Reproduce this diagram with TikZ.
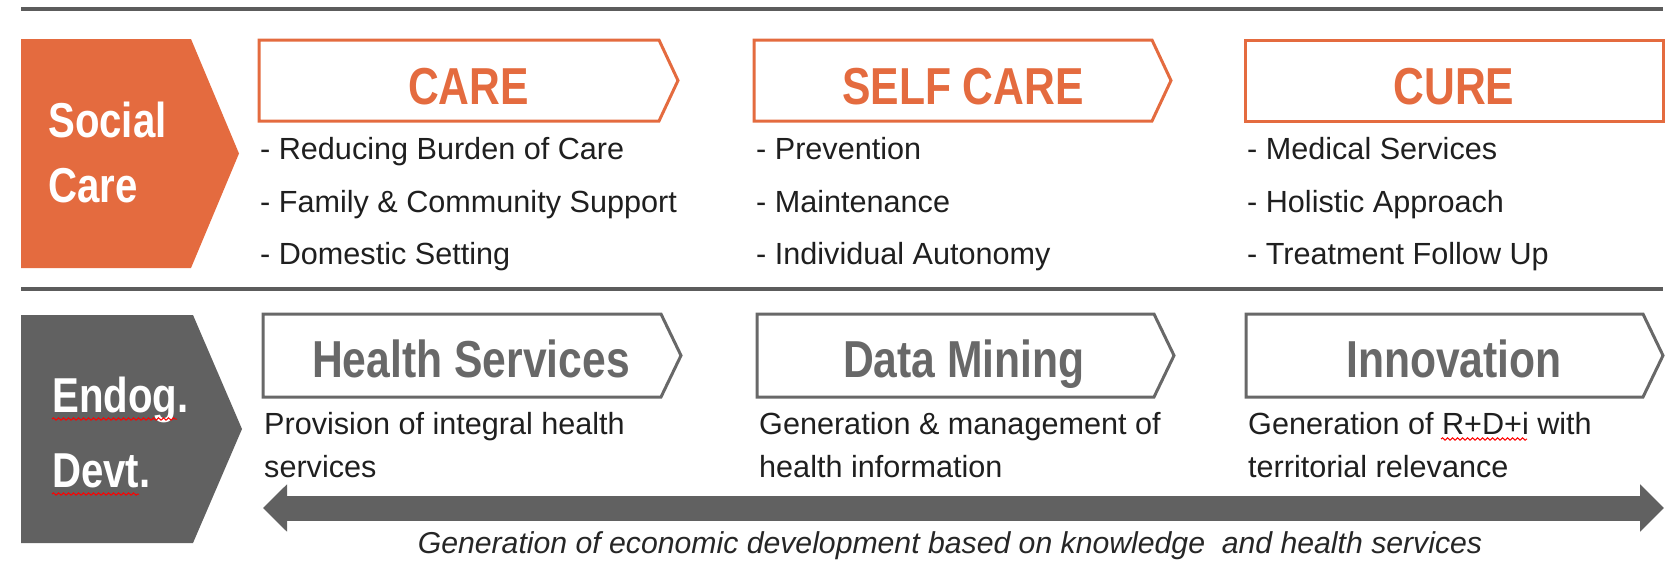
\documentclass[tikz,border=0pt]{standalone}
\usepackage{fontspec}
\setmainfont{Liberation Sans}
\newfontfamily\narrowfont{Liberation Sans}[FakeStretch=0.82]
\usetikzlibrary{arrows.meta,decorations.pathmorphing}
\definecolor{careorange}{HTML}{E46B3F}
\definecolor{devtgray}{HTML}{616161}
\definecolor{rulegray}{HTML}{5C5C5C}
\definecolor{titlegray}{HTML}{686868}
\tikzset{side node/.style={text=white,font=\narrowfont\bfseries\fontsize{49}{49}\selectfont,anchor=base west,inner sep=0pt},
         title node/.style={font=\narrowfont\bfseries\fontsize{52}{52}\selectfont,anchor=base,inner sep=0pt},
         item node/.style={font=\fontsize{30.6}{30.6}\selectfont,text=black!88,anchor=base west,inner sep=0pt},
         note node/.style={font=\itshape\fontsize{30.2}{30.2}\selectfont,text=black!85,anchor=base,inner sep=0pt},
         box line/.style={line width=3pt,line join=miter},
         rule line/.style={rulegray,line width=4pt},
         spell line/.style={red,line width=1pt,decorate,decoration={snake,segment length=5pt,amplitude=1.2pt}},
         big arrow/.style={devtgray,line width=25pt,{Triangle[length=24pt,width=46pt]}-{Triangle[length=24pt,width=46pt]}},
            }

\begin{document}
\begin{tikzpicture}[x=1pt,y=-1pt]
    \useasboundingbox (0,0) rectangle (1678,570);
    \draw[rule line] (21,9) -- (1663,9);
    \draw[rule line] (21,288.5) -- (1663,288.5);

    % side labels
    \fill[careorange] (21,39) -- (191,39) -- (239,153.5) -- (191,268) -- (21,268) -- cycle;
    \fill[devtgray] (21,315) -- (193,315) -- (242,429) -- (193,543) -- (21,543) -- cycle;
    \node[side node] (social) at (48,137) {Social};
    \node[side node] (socialcare) at (48,202) {Care};
    \node[side node] (endog) at (52,412) {Endog.};
    \node[side node] (devt) at (52,487) {Devt.};
    \draw[spell line] (52,419) -- (177,419);
    \draw[spell line] (52,494) -- (139,494);

    % chevrons
    \foreach \xa/\xb in {259/659, 754/1152}
        \draw[box line,careorange] (\xa,40) -- (\xb,40) -- (\xb+19,80.5) -- (\xb,121) -- (\xa,121) -- cycle;
    \draw[box line,careorange] (1245,40) rectangle (1663,121);
    \foreach \xa/\xb in {263/661, 757/1154, 1246/1643}
        \draw[box line,titlegray] (\xa,314) -- (\xb,314) -- (\xb+20,355.5) -- (\xb,397) -- (\xa,397) -- cycle;

    \node[title node,text=careorange] (care) at (468.5,104) {CARE};
    \node[title node,text=careorange] (selfcare) at (963,104) {SELF CARE};
    \node[title node,text=careorange] (cure) at (1454,104) {CURE};
    \node[title node,text=titlegray] (health) at (471,377) {Health Services};
    \node[title node,text=titlegray] (datamining) at (964,377) {Data Mining};
    \node[title node,text=titlegray] (innovation) at (1454,377) {Innovation};

    % lists
    \node[item node] (care1) at (260,159) {- Reducing Burden of Care};
    \node[item node] (care2) at (260,212) {- Family \& Community Support};
    \node[item node] (care3) at (260,264) {- Domestic Setting};
    \node[item node] (selfcare1) at (756,159) {- Prevention};
    \node[item node] (selfcare2) at (756,212) {- Maintenance};
    \node[item node] (selfcare3) at (756,264) {- Individual Autonomy};
    \node[item node] (cure1) at (1247,159) {- Medical Services};
    \node[item node] (cure2) at (1247,212) {- Holistic Approach};
    \node[item node] (cure3) at (1247,264) {- Treatment Follow Up};

    \node[item node] (health1) at (264,434) {Provision of integral health};
    \node[item node] (health2) at (264,477) {services};
    \node[item node] (data1) at (759,434) {Generation \& management of};
    \node[item node] (data2) at (759,477) {health information};
    \node[item node] (innov1) at (1248,434) {Generation of R+D+i with};
    \node[item node] (innov2) at (1248,477) {territorial relevance};
    \draw[spell line] (1441,439) -- (1527,439);

    % economy arrow
    \coordinate (arrowL) at (263,508);
    \coordinate (arrowR) at (1664,508);
    \draw[big arrow] (arrowL) -- (arrowR);
    \node[note node] (economy) at (950,553) {Generation of economic development based on knowledge\ \ and health services};
\end{tikzpicture}
\end{document}
